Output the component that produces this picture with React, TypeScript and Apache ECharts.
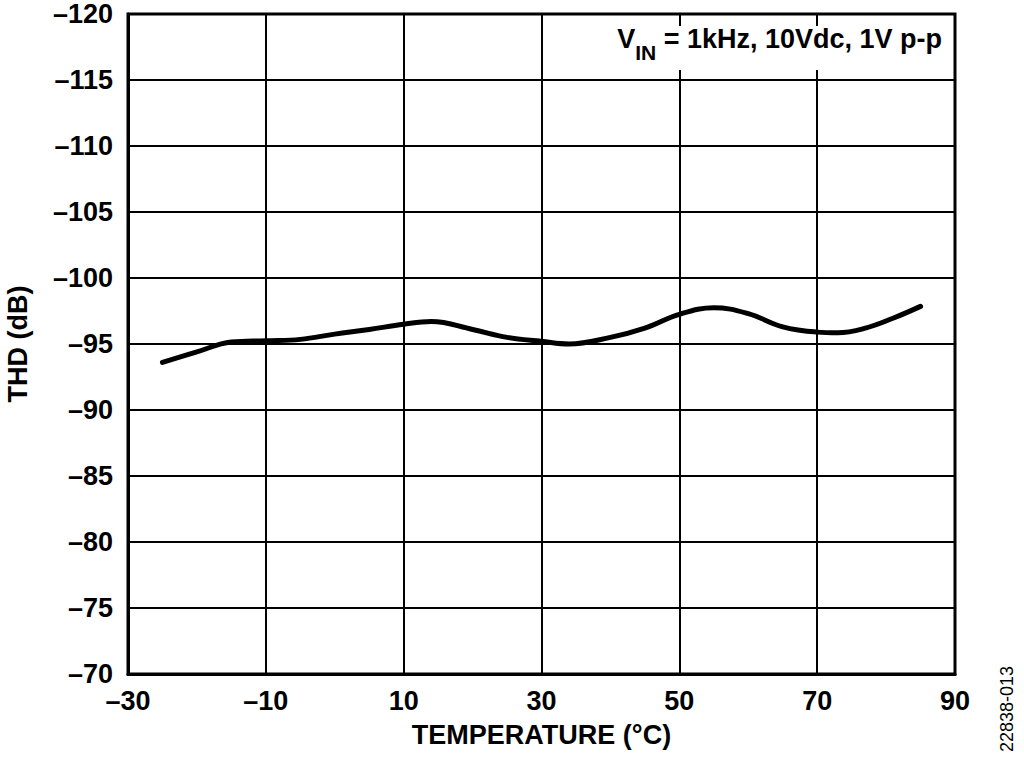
import React, { useEffect, useRef } from "react";
import * as echarts from "echarts";

const temps = [-25, -20, -15, -10, -5, 0, 5, 10, 14, 20, 25, 30, 34, 40, 45, 50, 55, 60, 65, 70, 73, 77, 81, 85];
const thd = [-93.6, -94.4, -95.15, -95.25, -95.35, -95.75, -96.1, -96.5, -96.7, -96.1, -95.5, -95.2, -95.0, -95.5, -96.2, -97.25, -97.75, -97.3, -96.3, -95.9, -95.85, -96.2, -96.95, -97.85];

const xMin = -30, xMax = 90, xStep = 20;
const yMin = -120, yMax = -70, yStep = 5;

const FONT = '"Liberation Sans", Arial, sans-serif';
const FS = 27;
const dash = (v: number) => String(v).replace("-", "\u2013");

export default function App() {
  const ref = useRef<HTMLDivElement>(null);
  useEffect(() => {
    if (!ref.current) return;
    const chart = echarts.init(ref.current, undefined, { renderer: "svg" });
    chart.setOption({
      animation: false,
      backgroundColor: "#fff",
      grid: {
        left: 128, right: 69, top: 14, bottom: 84,
        containLabel: false,
        outerBoundsMode: "none",
        show: true, borderColor: "#000", borderWidth: 3, backgroundColor: "transparent",
      },
      xAxis: {
        type: "value", min: xMin, max: xMax, interval: xStep,
        name: "TEMPERATURE (°C)", nameLocation: "middle", nameGap: 47,
        nameTextStyle: { fontFamily: FONT, fontWeight: "bold", fontSize: FS, color: "#000" },
        axisLine: { show: true, onZero: false, lineStyle: { color: "#000", width: 3 } },
        axisTick: { show: false },
        axisLabel: { formatter: dash, margin: 13, fontFamily: FONT, fontWeight: "bold", fontSize: FS, color: "#000" },
        splitLine: { show: true, lineStyle: { color: "#000", width: 2 } },
      },
      yAxis: {
        type: "value", min: yMin, max: yMax, interval: yStep, inverse: true,
        name: "THD (dB)", nameLocation: "middle", nameGap: 97, nameRotate: 90,
        nameTextStyle: { fontFamily: FONT, fontWeight: "bold", fontSize: FS, color: "#000" },
        axisLine: { show: true, onZero: false, lineStyle: { color: "#000", width: 3 } },
        axisTick: { show: false },
        axisLabel: { formatter: dash, margin: 15, fontFamily: FONT, fontWeight: "bold", fontSize: FS, color: "#000" },
        splitLine: { show: true, lineStyle: { color: "#000", width: 2 } },
      },
      series: [
        {
          type: "line",
          data: temps.map((t, i) => [t, thd[i]]),
          smooth: 0.4,
          showSymbol: false,
          lineStyle: { color: "#000", width: 5, cap: "round" },
        },
      ],
      graphic: [
        {
          type: "rect",
          shape: { x: 596, y: 26, width: 354, height: 44 },
          style: { fill: "#fff" },
          z: 50,
        },
        {
          type: "text",
          x: 942, y: 25,
          z: 51,
          style: {
            text: "{v|V}{s|IN}{v| = 1kHz, 10Vdc, 1V p-p}",
            align: "right",
            verticalAlign: "top",
            fill: "#000",
            rich: {
              v: { fontFamily: FONT, fontWeight: "bold", fontSize: 27, lineHeight: 38, verticalAlign: "top", fill: "#000" },
              s: { fontFamily: FONT, fontWeight: "bold", fontSize: 21, lineHeight: 14, verticalAlign: "bottom", fill: "#000" },
            },
          },
        },
        {
          type: "text",
          x: 1007, y: 709,
          rotation: Math.PI / 2,
          style: {
            text: "22838-013",
            align: "center",
            verticalAlign: "middle",
            fontFamily: FONT,
            fontSize: 18,
            fill: "#000",
          },
        },
      ],
    });
    return () => chart.dispose();
  }, []);
  return <div ref={ref} style={{ position: "fixed", left: 0, top: 0, width: 1024, height: 758, background: "#fff" }} />;
}
